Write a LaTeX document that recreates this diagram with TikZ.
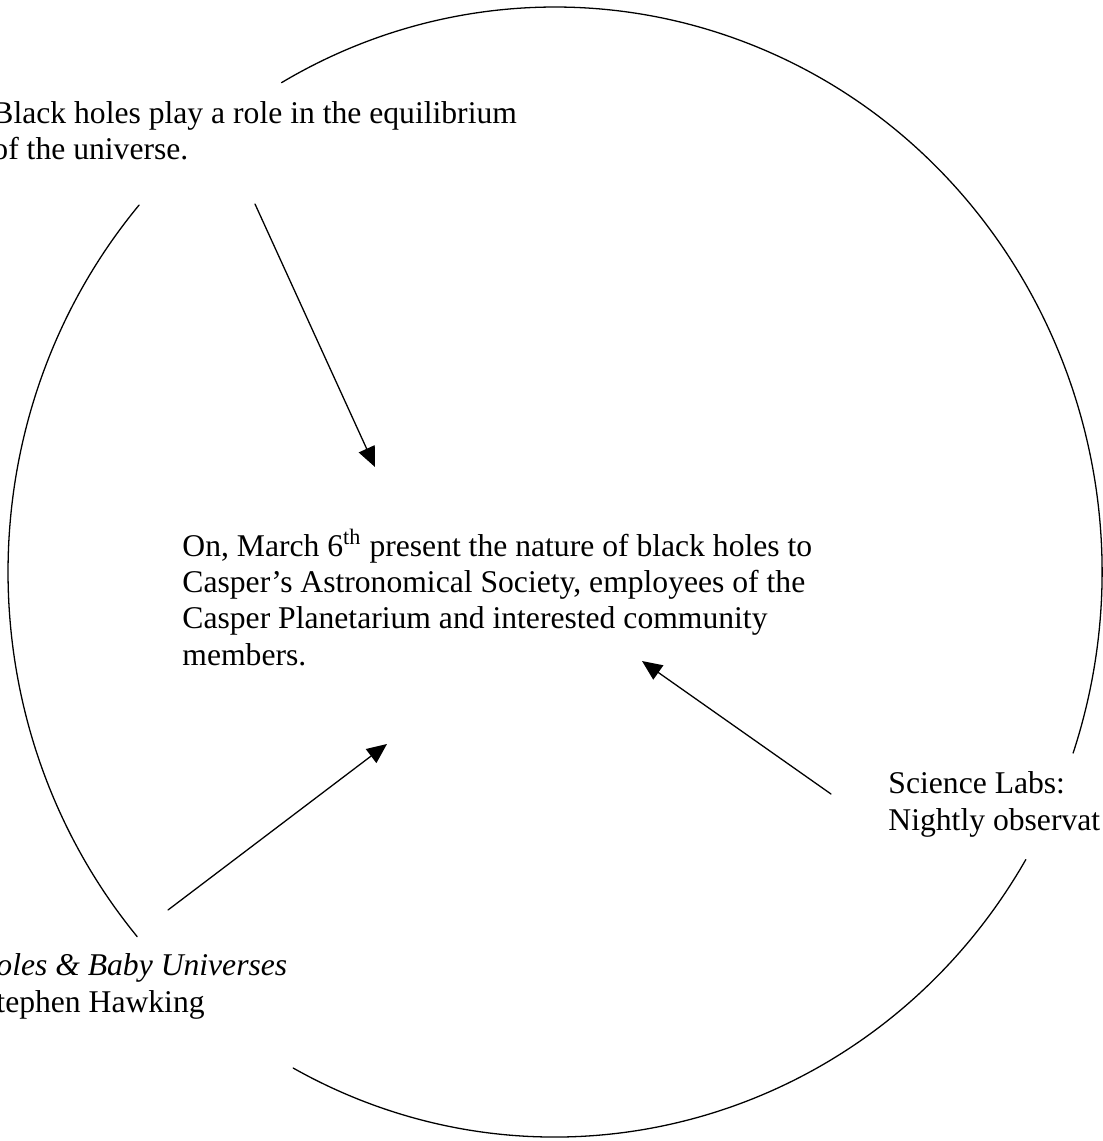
\documentclass[tikz,border=0pt]{standalone}
\usepackage{fontspec}
\setmainfont{Liberation Serif}
\usepackage{tikz}
\usetikzlibrary{arrows.meta}
\pgfmathsetmacro{\ringRadiusX}{8.205}
\pgfmathsetmacro{\ringRadiusY}{8.475}
\def\inkColor{black}

\begin{document}
\begin{tikzpicture}[line cap=round, line join=round,
	note/.style={anchor=base west, align=left, inner sep=0pt, font=\fontsize{13.5}{15.4}\selectfont},
	pointer/.style={-{Triangle[length=0.3cm, width=0.26cm]}, \inkColor, line width=0.55pt}]
	\useasboundingbox (-8.325,-8.535) rectangle (8.22,8.58);
	% ring, broken where the notes sit
	\foreach \startAngle/\endAngle in {-18.7/120, 139.5/220.2, 241.4/329.4} {
		\draw[\inkColor, line width=0.55pt] ({\ringRadiusX*cos(\startAngle)}, {\ringRadiusY*sin(\startAngle)})
			arc[start angle=\startAngle, end angle=\endAngle, x radius=\ringRadiusX, y radius=\ringRadiusY];
	}
	% notes (anchored on the baseline of their last line)
	\node[note] (equilibrium) at (-8.445, 6.18) {Black holes play a role in the equilibrium\\of the universe.};
	\node[note] (talk) at (-5.595, -1.395) {On, March 6\textsuperscript{th} present the nature of black holes to\\Casper’s Astronomical Society, employees of the\\Casper Planetarium and interested community\\members.};
	\node[note] (scienceLabs) at (4.995, -3.87) {Science Labs:\\Nightly observat};
	\node[note] (bookRef) at (-8.385, -6.6) {\textit{oles \& Baby Universes}\\tephen Hawking};
	% pointers into the talk
	\coordinate (equilibriumTail) at (-4.5, 5.52);
	\coordinate (equilibriumTip) at (-2.7, 1.575);
	\coordinate (labsTail) at (4.14, -3.33);
	\coordinate (labsTip) at (1.305, -1.335);
	\coordinate (bookTail) at (-5.805, -5.07);
	\coordinate (bookTip) at (-2.52, -2.58);
	\draw[pointer] (equilibriumTail) -- (equilibriumTip);
	\draw[pointer] (labsTail) -- (labsTip);
	\draw[pointer] (bookTail) -- (bookTip);
\end{tikzpicture}
\end{document}
